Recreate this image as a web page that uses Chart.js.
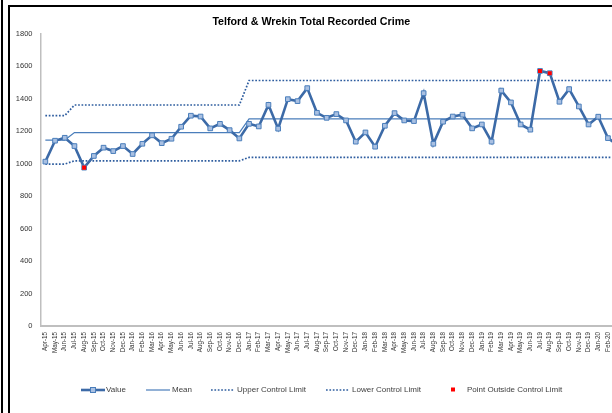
<!DOCTYPE html>
<html>
<head>
<meta charset="utf-8">
<script src="https://cdn.jsdelivr.net/npm/chart.js@4.4.0/dist/chart.umd.min.js"></script>
<style>
  html, body { margin: 0; padding: 0; background: #fff; overflow: hidden; }
  #wrap { position: relative; width: 612px; height: 413px; overflow: hidden; }
  #edge { position: absolute; left: 1px; top: 0; width: 2px; height: 413px; background: #000; }
  #frame { position: absolute; left: 8px; top: 5px; width: 700px; height: 500px; border: 2px solid #000; }
  #myChart { position: absolute; left: 0; top: 0; }
</style>
</head>
<body>
<div id="wrap">
  <div id="edge"></div>
  <div id="frame"></div>
  <canvas id="myChart" width="634" height="413"></canvas>
</div>
<script>
const months = [
  'Apr-15', 'May-15', 'Jun-15', 'Jul-15', 'Aug-15', 'Sep-15', 'Oct-15', 'Nov-15', 'Dec-15',
  'Jan-16', 'Feb-16', 'Mar-16', 'Apr-16', 'May-16', 'Jun-16', 'Jul-16', 'Aug-16', 'Sep-16', 'Oct-16', 'Nov-16', 'Dec-16',
  'Jan-17', 'Feb-17', 'Mar-17', 'Apr-17', 'May-17', 'Jun-17', 'Jul-17', 'Aug-17', 'Sep-17', 'Oct-17', 'Nov-17', 'Dec-17',
  'Jan-18', 'Feb-18', 'Mar-18', 'Apr-18', 'May-18', 'Jun-18', 'Jul-18', 'Aug-18', 'Sep-18', 'Oct-18', 'Nov-18', 'Dec-18',
  'Jan-19', 'Feb-19', 'Mar-19', 'Apr-19', 'May-19', 'Jun-19', 'Jul-19', 'Aug-19', 'Sep-19', 'Oct-19', 'Nov-19', 'Dec-19',
  'Jan-20', 'Feb-20', 'Mar-20'
];

const crimeValues = [
  1013, 1142, 1160, 1109, 976, 1048, 1099, 1078, 1109,
  1060, 1123, 1175, 1127, 1154, 1228, 1296, 1291, 1218, 1246, 1207, 1156,
  1246, 1230, 1363, 1216, 1398, 1386, 1466, 1314, 1283, 1306, 1267, 1136,
  1193, 1105, 1234, 1312, 1267, 1263, 1435, 1123, 1259, 1291, 1302, 1218,
  1242, 1136, 1451, 1378, 1242, 1210, 1572, 1558, 1382, 1460, 1353, 1242,
  1290, 1158, 1115
];

const meanValues = [
  1146, 1146, 1146, 1192, 1192, 1192, 1192, 1192, 1192,
  1192, 1192, 1192, 1192, 1192, 1192, 1192, 1192, 1192, 1192, 1192, 1192,
  1276, 1276, 1276, 1276, 1276, 1276, 1276, 1276, 1276, 1276, 1276, 1276,
  1276, 1276, 1276, 1276, 1276, 1276, 1276, 1276, 1276, 1276, 1276, 1276,
  1276, 1276, 1276, 1276, 1276, 1276, 1276, 1276, 1276, 1276, 1276, 1276,
  1276, 1276, 1276
];

const upperLimit = [
  1297, 1297, 1297, 1362, 1362, 1362, 1362, 1362, 1362,
  1362, 1362, 1362, 1362, 1362, 1362, 1362, 1362, 1362, 1362, 1362, 1362,
  1513, 1513, 1513, 1513, 1513, 1513, 1513, 1513, 1513, 1513, 1513, 1513,
  1513, 1513, 1513, 1513, 1513, 1513, 1513, 1513, 1513, 1513, 1513, 1513,
  1513, 1513, 1513, 1513, 1513, 1513, 1513, 1513, 1513, 1513, 1513, 1513,
  1513, 1513, 1513
];

const lowerLimit = [
  998, 998, 998, 1018, 1018, 1018, 1018, 1018, 1018,
  1018, 1018, 1018, 1018, 1018, 1018, 1018, 1018, 1018, 1018, 1018, 1018,
  1039, 1039, 1039, 1039, 1039, 1039, 1039, 1039, 1039, 1039, 1039, 1039,
  1039, 1039, 1039, 1039, 1039, 1039, 1039, 1039, 1039, 1039, 1039, 1039,
  1039, 1039, 1039, 1039, 1039, 1039, 1039, 1039, 1039, 1039, 1039, 1039,
  1039, 1039, 1039
];

// only the months where the value broke a control limit
const outsidePoints = [
  null, null, null, null, 976, null, null, null, null,
  null, null, null, null, null, null, null, null, null, null, null, null,
  null, null, null, null, null, null, null, null, null, null, null, null,
  null, null, null, null, null, null, null, null, null, null, null, null,
  null, null, null, null, null, null, 1572, 1558, null, null, null, null,
  null, null, null
];

const yTicks = [0, 200, 400, 600, 800, 1000, 1200, 1400, 1600, 1800];

Chart.defaults.font.family = "'Liberation Sans', Arial, sans-serif";
Chart.defaults.color = '#404040';

// Excel style legend, drawn at fixed spots under the axis labels
const excelLegend = {
    id: 'excelLegend',
    afterDraw(chart) {
        const ctx = chart.ctx;
        const ds = chart.data.datasets;
        const y = 390;
        const items = [
            { i: 0, x0: 81, x1: 105, tx: 106 },
            { i: 1, x0: 146, x1: 170, tx: 172 },
            { i: 2, x0: 211, x1: 234, tx: 237 },
            { i: 3, x0: 326, x1: 349, tx: 352 },
            { i: 4, x0: 448, x1: 458, tx: 467 }
        ];
        ctx.save();
        items.forEach(it => {
            const d = ds[it.i];
            if (it.i < 4) {
                ctx.beginPath();
                ctx.setLineDash(d.borderDash || []);
                ctx.lineWidth = d.borderWidth;
                ctx.strokeStyle = d.borderColor;
                ctx.moveTo(it.x0, y);
                ctx.lineTo(it.x1, y);
                ctx.stroke();
                ctx.setLineDash([]);
            }
            if (it.i === 0) {
                const mid = (it.x0 + it.x1) / 2;
                ctx.fillStyle = d.pointBackgroundColor;
                ctx.strokeStyle = d.pointBorderColor;
                ctx.lineWidth = 1;
                ctx.fillRect(mid - 2.5, y - 2.5, 5, 5);
                ctx.strokeRect(mid - 2.5, y - 2.5, 5, 5);
            }
            if (it.i === 4) {
                ctx.fillStyle = d.pointBackgroundColor;
                ctx.fillRect(453 - 2, y - 2.5, 4, 4);
            }
            ctx.fillStyle = '#404040';
            ctx.font = "8px 'Liberation Sans', Arial, sans-serif";
            ctx.textAlign = 'left';
            ctx.textBaseline = 'middle';
            ctx.fillText(d.label, it.tx, y);
        });
        ctx.restore();
    }
};

const ctx = document.getElementById('myChart').getContext('2d');

const myChart = new Chart(ctx, {
    type: 'line',
    data: {
        labels: months,
        datasets: [{
            label: 'Value',
            data: crimeValues,
            borderColor: '#3c6aa7',
            borderWidth: 2.6,
            tension: 0,
            pointStyle: 'rect',
            pointRadius: 3.3,
            pointBorderWidth: 1,
            pointBackgroundColor: '#a9c0e2',
            pointBorderColor: '#4a7ebb',
            order: 1
        }, {
            label: 'Mean',
            data: meanValues,
            borderColor: '#4a7ebb',
            borderWidth: 1.2,
            pointRadius: 0,
            tension: 0,
            order: 2
        }, {
            label: 'Upper Control Limit',
            data: upperLimit,
            borderColor: '#2e5d9f',
            borderWidth: 1.7,
            borderDash: [1.7, 1.7],
            pointRadius: 0,
            tension: 0,
            order: 3
        }, {
            label: 'Lower Control Limit',
            data: lowerLimit,
            borderColor: '#2e5d9f',
            borderWidth: 1.7,
            borderDash: [1.7, 1.7],
            pointRadius: 0,
            tension: 0,
            order: 4
        }, {
            label: 'Point Outside Control Limit',
            data: outsidePoints,
            showLine: false,
            pointStyle: 'rect',
            pointRadius: 2.9,
            pointBorderWidth: 0,
            pointBackgroundColor: '#ff0000',
            pointBorderColor: '#ff0000',
            order: 0
        }]
    },
    options: {
        responsive: false,
        animation: false,
        layout: {
            padding: { left: 0, right: 11.5, top: 0, bottom: 0 }
        },
        scales: {
            x: {
                offset: true,
                grid: { display: false, drawTicks: false },
                border: { display: true, color: '#bfbfbf', width: 2 },
                ticks: {
                    autoSkip: false,
                    minRotation: 90,
                    maxRotation: 90,
                    padding: 6,
                    color: '#333',
                    font: { size: 6.3 }
                },
                afterFit: function(scale) {
                    scale.height = 87;
                }
            },
            y: {
                min: 0,
                max: 1800,
                afterBuildTicks: function(scale) {
                    scale.ticks = yTicks.map(v => ({ value: v }));
                },
                grid: { drawOnChartArea: false, drawTicks: false },
                border: { display: true, color: '#bfbfbf', width: 1.5 },
                ticks: {
                    padding: 8,
                    color: '#333',
                    font: { size: 7.5 },
                    callback: function(value) {
                        return String(value);
                    }
                },
                afterFit: function(scale) {
                    scale.width = 40.5;
                }
            }
        },
        plugins: {
            legend: {
                display: false
            },
            title: {
                display: true,
                text: 'Telford & Wrekin Total Recorded Crime',
                color: '#000',
                font: { size: 10.7, weight: 'bold' },
                padding: { top: 15.7, bottom: 5.4 }
            },
            tooltip: {
                enabled: false
            }
        }
    },
    plugins: [excelLegend]
});
</script>
</body>
</html>
